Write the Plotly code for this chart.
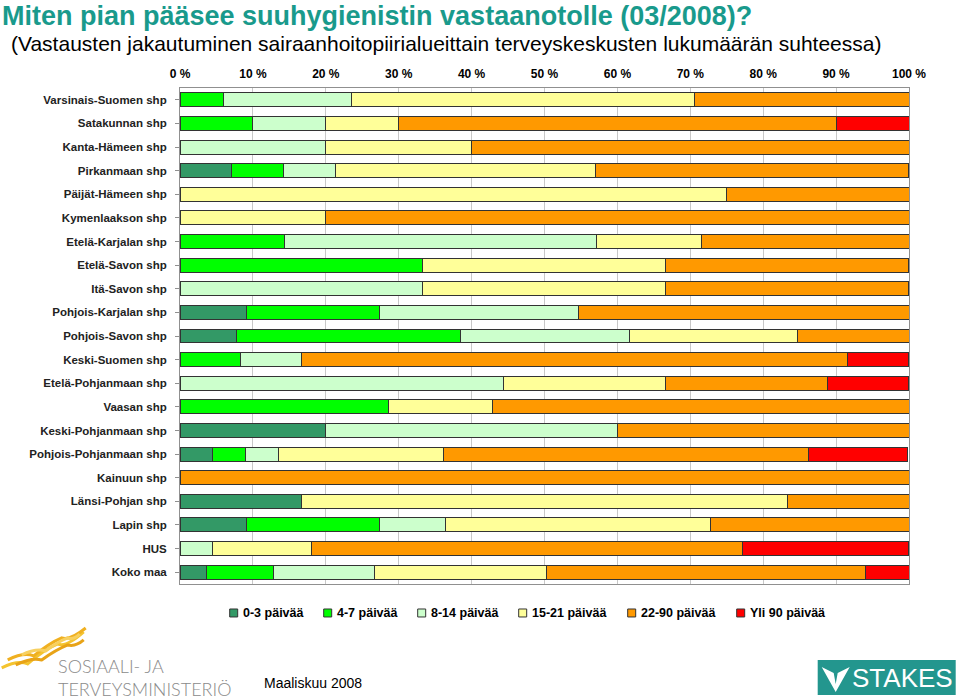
import plotly.graph_objects as go

categories = [
    "Varsinais-Suomen shp", "Satakunnan shp", "Kanta-Hämeen shp", "Pirkanmaan shp",
    "Päijät-Hämeen shp", "Kymenlaakson shp", "Etelä-Karjalan shp", "Etelä-Savon shp",
    "Itä-Savon shp", "Pohjois-Karjalan shp", "Pohjois-Savon shp", "Keski-Suomen shp",
    "Etelä-Pohjanmaan shp", "Vaasan shp", "Keski-Pohjanmaan shp", "Pohjois-Pohjanmaan shp",
    "Kainuun shp", "Länsi-Pohjan shp", "Lapin shp", "HUS", "Koko maa",
]

series_names = ["0-3 päivää", "4-7 päivää", "8-14 päivää", "15-21 päivää", "22-90 päivää", "Yli 90 päivää"]

d0_3 = [0, 0, 0, 7.1, 0, 0, 0, 0, 0, 9.1, 7.7, 0, 0, 0, 20.0, 4.5, 0, 16.7, 9.1, 0, 3.6]
d4_7 = [5.9, 10.0, 0, 7.1, 0, 0, 14.3, 33.3, 0, 18.2, 30.8, 8.3, 0, 28.6, 0, 4.5, 0, 0, 18.2, 0, 9.2]
d8_14 = [17.6, 10.0, 20.0, 7.1, 0, 0, 42.9, 0, 33.3, 27.3, 23.1, 8.3, 44.4, 0, 40.0, 4.5, 0, 0, 9.1, 4.5, 13.9]
d15_21 = [47.1, 10.0, 20.0, 35.7, 75.0, 20.0, 14.3, 33.3, 33.3, 0, 23.1, 0, 22.2, 14.3, 0, 22.7, 0, 66.7, 36.4, 13.6, 23.6]
d22_90 = [29.4, 60.0, 60.0, 42.9, 25.0, 80.0, 28.6, 33.3, 33.3, 45.5, 15.4, 75.0, 22.2, 57.1, 40.0, 50.0, 100.0, 16.7, 27.3, 59.1, 43.8]
d90 = [0, 10.0, 0, 0, 0, 0, 0, 0, 0, 0, 0, 8.3, 11.1, 0, 0, 13.6, 0, 0, 0, 22.7, 5.9]

tick_vals = [0, 10, 20, 30, 40, 50, 60, 70, 80, 90, 100]
tick_labels = ["0 %", "10 %", "20 %", "30 %", "40 %", "50 %", "60 %", "70 %", "80 %", "90 %", "100 %"]

colors = ["#339966", "#00FF00", "#CCFFCC", "#FFFF99", "#FF9900", "#FF0000"]

NARROW = "Liberation Sans Narrow, Arial Narrow, Liberation Sans, Arial, sans-serif"
ARIAL = "Liberation Sans, Arial, sans-serif"

fig = go.Figure()
for name, vals, col in zip(series_names, [d0_3, d4_7, d8_14, d15_21, d22_90, d90], colors):
    fig.add_trace(go.Bar(
        y=categories, x=vals, name=name, orientation="h",
        marker=dict(color=col, line=dict(color="#333333", width=1)),
        showlegend=False,
    ))

# plot area in pixels
L, R, T, B = 180.3, 909.3, 87.7, 584.0
def px(x):
    return (x - L) / (R - L)
def py(y):
    return (B - y) / (B - T)

fig.update_layout(
    width=960, height=700,
    margin=dict(l=L, r=960 - R, t=T, b=700 - B, pad=0),
    barmode="stack", bargap=0.41,
    paper_bgcolor="white", plot_bgcolor="white",
    xaxis=dict(
        range=[0, 100], side="top", tickvals=tick_vals, ticktext=tick_labels,
        showgrid=True, gridcolor="#C8C8C8", gridwidth=1,
        showline=True, linecolor="#909090", linewidth=1, mirror=True,
        ticks="", zeroline=False, ticklabelstandoff=4,
        tickfont=dict(family=NARROW, size=12, color="#000000", weight="bold"),
        fixedrange=True,
    ),
    yaxis=dict(
        autorange="reversed", showline=True, linecolor="#909090", linewidth=1, mirror=True,
        ticks="outside", ticklen=4, tickcolor="#909090", ticklabelstandoff=6,
        tickfont=dict(family=ARIAL, size=11.5, color="#222222", weight="bold"),
        showgrid=False, fixedrange=True,
    ),
)

ann = []
ann.append(dict(text="<b>Miten pian pääsee suuhygienistin vastaanotolle (03/2008)?</b>",
                x=px(0), y=py(16), xref="paper", yref="paper", xanchor="left", yanchor="middle",
                showarrow=False, font=dict(family=NARROW, size=27, color="#199A8C")))
ann.append(dict(text="(Vastausten jakautuminen sairaanhoitopiirialueittain terveyskeskusten lukumäärän suhteessa)",
                x=px(9), y=py(43), xref="paper", yref="paper", xanchor="left", yanchor="middle",
                showarrow=False, font=dict(family=NARROW, size=21, color="#000000")))
ann.append(dict(text="Maaliskuu 2008", x=px(262), y=py(683), xref="paper", yref="paper",
                xanchor="left", yanchor="middle", showarrow=False,
                font=dict(family=NARROW, size=14, color="#000000")))
ann.append(dict(text="SOSIAALI- JA", x=px(56), y=py(666), xref="paper", yref="paper",
                xanchor="left", yanchor="middle", showarrow=False,
                font=dict(family="Lato, Open Sans, sans-serif", size=18, color="#8A8A8A", weight=300)))
ann.append(dict(text="TERVEYSMINISTERIÖ", x=px(56), y=py(689), xref="paper", yref="paper",
                xanchor="left", yanchor="middle", showarrow=False,
                font=dict(family="Lato, Open Sans, sans-serif", size=18, color="#8A8A8A", weight=300)))
ann.append(dict(text="STAKES", x=px(903), y=py(678), xref="paper", yref="paper",
                xanchor="center", yanchor="middle", showarrow=False,
                font=dict(family=NARROW, size=26, color="#FFFFFF")))

# legend (drawn manually to match spacing)
legend_sq_x = [230, 324, 418, 519, 628, 737]
legend_y = 613
shapes = []
for name, col, sx in zip(series_names, colors, legend_sq_x):
    shapes.append(dict(type="rect", xref="paper", yref="paper",
                       x0=px(sx), x1=px(sx + 8), y0=py(legend_y + 4), y1=py(legend_y - 4),
                       fillcolor=col, line=dict(color="#333333", width=1)))
    ann.append(dict(text=f"<b>{name}</b>", x=px(sx + 11), y=py(legend_y), xref="paper", yref="paper",
                    xanchor="left", yanchor="middle", showarrow=False,
                    font=dict(family=ARIAL, size=12.5, color="#000000")))
fig.update_layout(annotations=ann)

def P(pts):
    return " ".join(f"{px(a):.5f},{py(b):.5f}" for a, b in pts)

# STAKES box
shapes.append(dict(type="rect", xref="paper", yref="paper", x0=px(818), x1=px(956), y0=py(695), y1=py(660),
                   fillcolor="#23968E", line=dict(width=0), layer="below"))
# V icon
shapes.append(dict(type="path", xref="paper", yref="paper",
                   path="M " + P([(822, 667)]) + " L " + P([(836, 692)]) + " L " + P([(850, 667)]) +
                        " L " + P([(838, 673)]) + " L " + P([(836, 684)]) + " L " + P([(834, 673)]) + " Z",
                   fillcolor="#FFFFFF", line=dict(width=0), layer="above"))
# golden waves (ministry logo)
wave_cols = ["#F4C430", "#F0B020", "#E8A317", "#F7D060"]
waves = [
    [(2, 668), (18, 660), (28, 664), (44, 650), (58, 644), (66, 648), (84, 632)],
    [(8, 660), (24, 652), (34, 656), (50, 643), (62, 638), (70, 641), (86, 628)],
    [(16, 665), (32, 657), (42, 660), (56, 650), (68, 645), (76, 647), (84, 640)],
    [(22, 655), (36, 648), (46, 651), (58, 642), (68, 638), (74, 640), (80, 634)],
]
for pts, col in zip(waves, wave_cols):
    path = "M " + P(pts[:1])
    for i in range(1, len(pts) - 1, 2):
        path += " Q " + P([pts[i], pts[i + 1]])
    shapes.append(dict(type="path", xref="paper", yref="paper", path=path,
                       line=dict(color=col, width=3), layer="above"))
fig.update_layout(shapes=shapes)

fig.write_html("out.html", config={"displayModeBar": False},
               post_script="document.body.style.margin='0';document.body.style.overflow='hidden';")
